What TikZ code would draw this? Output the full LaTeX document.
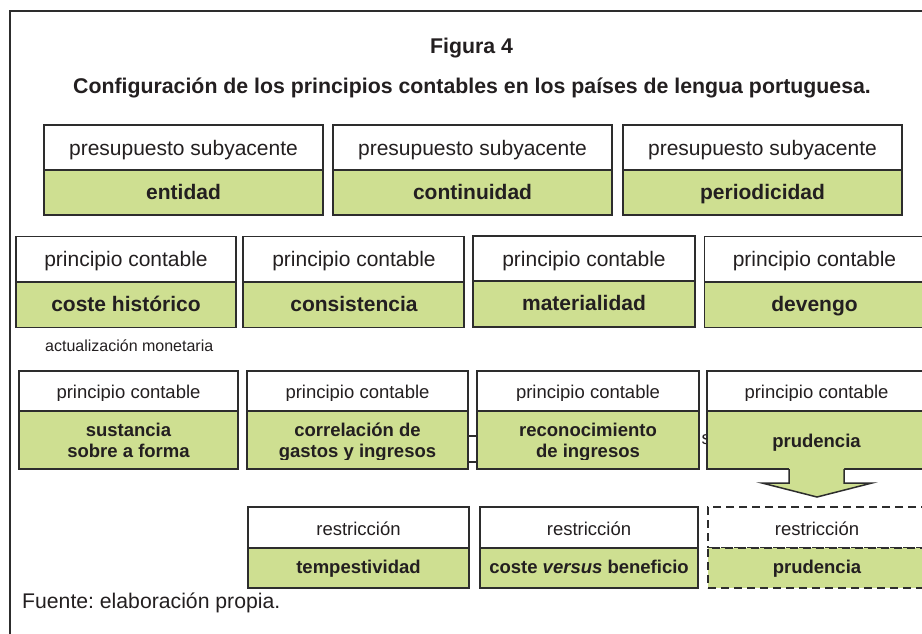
\documentclass[tikz,border=0pt]{standalone}
\usepackage{fontspec}
\setmainfont{Liberation Sans}
\usetikzlibrary{fit,calc}
\definecolor{gr}{RGB}{206,223,145}
\definecolor{ln}{RGB}{45,45,45}
\definecolor{tx}{RGB}{35,31,32}
\frenchspacing
\newcommand\fA{\fontsize{21}{24}\selectfont}
\newcommand\fT{\fontsize{21.3}{24}\selectfont}
\newcommand\fS{\fontsize{21.2}{24}\selectfont}
\newcommand\fB{\fontsize{18.5}{21}\selectfont}
\newcommand\fC{\fontsize{16}{19}\selectfont}
\newcommand\pairbox[7]{%
  \node[#7w, fit={(#2,#4) (#3,#5)}] (#1t) {};
  \node[#7g, fit={(#2,#5) (#3,#6)}] (#1b) {};}
\tikzset{
  boxw/.style={draw=ln, line width=1.8pt, fill=white, inner sep=0pt, rectangle},
  boxg/.style={boxw, fill=gr},
  dboxw/.style={boxw, dash pattern=on 8pt off 5pt},
  dboxg/.style={boxg, dash pattern=on 8pt off 5pt},
  txt/.style={text=tx, inner sep=0pt, anchor=base},
  tT/.style={txt, font=\fT\bfseries},
  tA/.style={txt, font=\fA},
  tAb/.style={txt, font=\fA\bfseries},
  tB/.style={txt, font=\fB},
  tBb/.style={txt, font=\fB\bfseries},
  tC/.style={txt, font=\fC},
  tS/.style={txt, font=\fS},
  frame/.style={draw=ln, line width=2pt},
  blockarrow/.style={draw=ln, line width=1.5pt, line join=miter}
}
\begin{document}
\begin{tikzpicture}[x=1pt,y=-1pt]
\clip (0,0) rectangle (922,633);
\fill[white] (0,0) rectangle (922,633);
% frame
\coordinate (fa) at (9.5,640);
\coordinate (fb) at (9.5,11);
\coordinate (fc) at (935,11);
\draw[frame] (fa) -- (fb) -- (fc);
% title
\node[tT] (fig) at (471.5,53) {Figura 4};
\node[tT] (tit) at (472,93.5) {Configuración de los principios contables en los países de lengua portuguesa.};
% row 1
\pairbox{r1a}{44}{323}{125}{170}{215}{box}
\pairbox{r1b}{333}{612}{125}{170}{215}{box}
\pairbox{r1c}{623}{902}{125}{170}{215}{box}
\node[tA] (l1a) at (183.5,155.5) {presupuesto subyacente};
\node[tA] (l1b) at (472.5,155.5) {presupuesto subyacente};
\node[tA] (l1c) at (762.5,155.5) {presupuesto subyacente};
\node[tAb] (v1a) at (183.5,199.5) {entidad};
\node[tAb] (v1b) at (472.5,199.5) {continuidad};
\node[tAb] (v1c) at (762.5,199.5) {periodicidad};
% row 2
\pairbox{r2a}{16}{236}{236.5}{282}{327.5}{box}
\pairbox{r2b}{243}{464}{236.5}{282}{327.5}{box}
\pairbox{r2c}{473}{695}{236}{281}{327}{box}
\pairbox{r2d}{704.5}{926}{236.5}{282}{327.5}{box}
\node[tA] (l2a) at (126,266.5) {principio contable};
\node[tA] (l2b) at (354,266.5) {principio contable};
\node[tA] (l2c) at (584,266) {principio contable};
\node[tA] (l2d) at (814.5,266.5) {principio contable};
\node[tAb] (v2a) at (126,311) {coste histórico};
\node[tAb] (v2b) at (354,311) {consistencia};
\node[tAb] (v2c) at (584,310) {materialidad};
\node[tAb] (v2d) at (814.5,311) {devengo};
\node[tC, anchor=base west] (act) at (45,351) {actualización monetaria};
% row 3
\node[boxw, fit={(455,436) (490,462)}] (hid) {};
\pairbox{r3a}{19}{238}{371}{411}{469}{box}
\pairbox{r3b}{247}{468}{371}{411}{469}{box}
\pairbox{r3c}{477}{699}{371}{411}{469}{box}
\node[tB, anchor=base west] (hs) at (701.5,444) {s};
\pairbox{r3d}{707}{926}{371}{411}{469}{box}
\begin{scope}
\clip (0,371) rectangle (922,400);
\node[tB] (l3a) at (128.5,398) {principio contable};
\node[tB] (l3b) at (357.5,398) {principio contable};
\node[tB] (l3c) at (588,398) {principio contable};
\node[tB] (l3d) at (816.5,398) {principio contable};
\end{scope}
\begin{scope}
\clip (0,411) rectangle (922,459.5);
\node[tBb] (v3a1) at (128.5,436.5) {sustancia};
\node[tBb] (v3a2) at (128.5,457) {sobre a forma};
\node[tBb] (v3b1) at (357.5,436.5) {correlación de};
\node[tBb] (v3b2) at (357.5,457) {gastos y ingresos};
\node[tBb] (v3c1) at (588,436.5) {reconocimiento};
\node[tBb] (v3c2) at (588,457) {de ingresos};
\end{scope}
\node[tBb] (v3d) at (816.5,447) {prudencia};
% block arrow
\coordinate (a0) at (789,466);
\coordinate (a1) at (789,469);
\coordinate (a2) at (789,483);
\coordinate (a3) at (762,483);
\coordinate (a4) at (817,497);
\coordinate (a5) at (872,483);
\coordinate (a6) at (844,483);
\coordinate (a7) at (844,469);
\coordinate (a8) at (844,466);
\fill[gr] (a0) -- (a2) -- (a3) -- (a4) -- (a5) -- (a6) -- (a8) -- cycle;
\draw[blockarrow] (a1) -- (a2) -- (a3) -- (a4) -- (a5) -- (a6) -- (a7);
% row 4
\pairbox{r4a}{248}{469}{507}{548}{588}{box}
\pairbox{r4b}{480}{698}{507}{548}{588}{box}
\pairbox{r4c}{708}{928}{507}{548}{588}{dbox}
\node[tB] (l4a) at (358.5,535) {restricción};
\node[tB] (l4b) at (589,535) {restricción};
\node[tB] (l4c) at (817,535) {restricción};
\node[tBb] (v4a) at (358.5,573) {tempestividad};
\node[tBb] (v4b) at (589,573) {coste \textit{versus} beneficio};
\node[tBb] (v4c) at (817,573) {prudencia};
% source
\node[tS, anchor=base west] (src) at (22,608) {Fuente: elaboración propia.};
\end{tikzpicture}
\end{document}
